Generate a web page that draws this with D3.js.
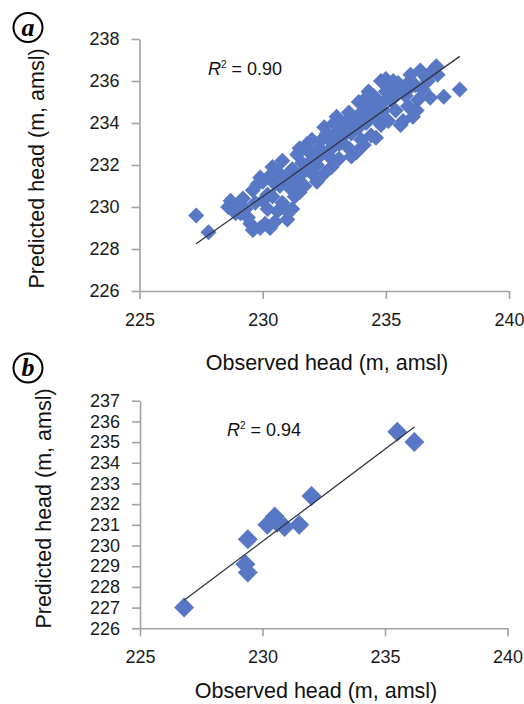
<!DOCTYPE html>
<html>
<head>
<meta charset="utf-8">
<script src="https://cdn.jsdelivr.net/npm/d3@7"></script>
<style>
  body { margin: 0; background: #fff; }
  svg { display: block; font-family: "Liberation Sans", Arial, sans-serif; }
</style>
</head>
<body>
<svg id="chart" width="524" height="704"></svg>
<script>
// panel a : observed vs predicted head (calibration)
var obsA = [227.3, 227.8,
  228.6, 228.7, 229.0, 228.9, 229.2, 229.3, 229.5, 229.6, 229.4, 229.6, 229.8,
  229.9, 230.1, 230.3, 230.5, 230.2, 230.0, 230.4, 230.6, 230.8, 230.0, 230.3, 230.6, 230.5, 230.9, 230.8,
  231.0, 231.2, 231.3, 231.1, 231.5, 231.4, 231.7, 231.2, 231.6, 231.4, 231.9, 232.0, 231.8,
  232.2, 232.3, 232.5, 232.4, 232.7, 232.6, 232.9, 232.8, 233.0, 233.1, 232.5, 232.9,
  233.2, 233.3, 233.5, 233.4, 233.6, 233.7, 233.8, 233.9, 234.0, 234.0, 233.5, 233.9,
  234.1, 234.2, 234.3, 234.4, 234.5, 234.6, 234.7, 234.8, 234.9, 235.0, 234.3, 234.8,
  235.1, 235.2, 235.3, 235.4, 235.5, 235.6, 235.7, 235.8, 235.9, 236.0, 235.3,
  236.1, 236.25, 236.3, 236.4, 236.5, 236.7, 236.8, 237.05, 237.1, 237.35, 238.0,
  229.1, 229.7, 230.2, 230.7, 231.0, 231.3, 231.6, 231.8, 232.1, 232.3, 232.6, 232.8,
  233.1, 233.3, 233.6, 233.8, 234.1, 234.4, 234.6, 234.9, 235.2, 235.4, 235.7, 235.9,
  236.2, 236.6, 236.0, 232.0, 233.0, 234.2, 231.5, 230.4, 229.9, 235.0, 236.9, 233.6,
  234.6, 232.2, 230.9];
var predA = [229.6, 228.8,
  230.0, 230.3, 230.0, 229.7, 230.4, 229.9, 229.2, 228.9, 229.5, 230.8, 231.1,
  229.0, 229.2, 229.0, 229.3, 229.9, 230.3, 230.5, 229.8, 230.2, 231.2, 231.5, 231.7, 231.1, 231.4, 232.2,
  229.4, 229.9, 230.5, 230.9, 230.7, 231.3, 231.0, 231.8, 232.1, 232.5, 232.6, 231.6, 233.0,
  232.0, 232.8, 231.6, 233.2, 232.4, 233.5, 232.9, 231.9, 233.6, 232.3, 233.8, 234.0,
  233.1, 233.9, 232.8, 234.1, 233.5, 234.2, 232.6, 233.8, 233.2, 234.5, 234.5, 235.0,
  232.95, 234.0, 234.8, 233.4, 235.3, 234.2, 235.0, 233.9, 234.6, 235.5, 235.5, 236.0,
  234.1, 235.8, 235.2, 234.6, 235.9, 233.9, 234.1, 235.3, 234.8, 235.7, 236.0,
  234.3, 234.6, 235.1, 236.5, 235.6, 236.0, 235.2, 236.7, 236.3, 235.25, 235.6,
  229.7, 230.2, 230.6, 231.0, 231.2, 231.6, 231.6, 232.0, 232.3, 232.4, 232.6, 233.1,
  233.0, 233.4, 233.9, 234.0, 234.1, 234.5, 234.7, 235.0, 235.1, 235.5, 235.6, 235.9,
  235.8, 236.2, 236.3, 233.2, 234.3, 235.2, 232.8, 231.9, 231.4, 236.1, 236.5, 232.4,
  233.3, 231.2, 229.9];

// panel b : observed vs predicted head (validation)
var obsB = [226.8, 229.4, 229.3, 229.4, 230.2, 230.5, 230.6, 230.9, 231.5, 232.0, 235.5, 236.2];
var predB = [227.0, 228.7, 229.1, 230.3, 231.0, 231.4, 231.1, 230.9, 231.0, 232.4, 235.5, 235.0];

var xTicks = [225, 230, 235, 240];
var yTicksA = [226, 228, 230, 232, 234, 236, 238];
var yTicksB = [226, 227, 228, 229, 230, 231, 232, 233, 234, 235, 236, 237];
var r2Labels = ["0.90", "0.94"];
var panelLetters = ["a", "b"];

var svg = d3.select("#chart");
svg.append("rect").attr("width", 524).attr("height", 704).attr("fill", "#fff");

function drawPanel(p) {
  var x = d3.scaleLinear().domain([225, 240]).range(p.xr);
  var y = d3.scaleLinear().domain(p.yd).range(p.yr);
  var g = svg.append("g");

  // axes
  var ax = g.append("g")
    .attr("transform", "translate(0," + p.yr[0] + ")")
    .call(d3.axisBottom(x).tickValues(xTicks).tickSize(8).tickSizeOuter(0).tickPadding(14).tickFormat(d3.format("d")));
  var ay = g.append("g")
    .attr("transform", "translate(" + p.xr[0] + ",0)")
    .call(d3.axisLeft(y).tickValues(p.yTicks).tickSize(8).tickSizeOuter(0).tickPadding(12).tickFormat(d3.format("d")));
  [ax, ay].forEach(function(a) {
    a.select(".domain").attr("stroke", "#a3a3a3").attr("stroke-width", 1.6);
    a.selectAll(".tick line").attr("stroke", "#a3a3a3").attr("stroke-width", 1.6);
    a.selectAll(".tick text").attr("fill", "#1a1a1a").style("font-size", "18px")
      .style("font-family", "'Liberation Sans', Arial, sans-serif");
  });

  // points
  var pts = p.obs.map(function(d, i) { return [d, p.pred[i]]; });
  g.selectAll("path.pt")
    .data(pts)
    .enter()
    .append("path")
      .attr("class", "pt")
      .attr("d", d3.symbol(d3.symbolSquare, p.size))
      .attr("transform", function(d) { return "translate(" + x(d[0]) + "," + y(d[1]) + ") rotate(45)"; })
      .attr("fill", "#5878c6");

  // least squares trend line over the observed range
  var mx = d3.mean(p.obs), my = d3.mean(p.pred);
  var sxy = d3.sum(pts, function(d) { return (d[0] - mx) * (d[1] - my); });
  var sxx = d3.sum(pts, function(d) { return (d[0] - mx) * (d[0] - mx); });
  var slope = sxy / sxx, icpt = my - slope * mx;
  var ext = d3.extent(p.obs);
  g.append("line")
    .attr("x1", x(ext[0])).attr("y1", y(icpt + slope * ext[0]))
    .attr("x2", x(ext[1])).attr("y2", y(icpt + slope * ext[1]))
    .attr("stroke", "#2f3440").attr("stroke-width", 1.3);

  // R squared
  var t = g.append("text")
    .attr("x", p.r2pos[0]).attr("y", p.r2pos[1])
    .style("font-size", "18px").attr("fill", "#111");
  t.append("tspan").style("font-style", "italic").text("R");
  t.append("tspan").attr("dy", -7).style("font-size", "10px").text("2");
  t.append("tspan").attr("dy", 7).text(" = " + p.r2);

  // axis titles
  g.append("text")
    .attr("x", p.xTitle[0]).attr("y", p.xTitle[1])
    .attr("text-anchor", "middle")
    .style("font-size", "21.5px").attr("fill", "#111")
    .text("Observed head (m, amsl)");
  g.append("text")
    .attr("transform", "translate(" + p.yTitle[0] + "," + p.yTitle[1] + ") rotate(-90)")
    .attr("text-anchor", "middle")
    .style("font-size", "21.5px").attr("fill", "#111")
    .text("Predicted head (m, amsl)");

  // circled panel letter
  g.append("circle")
    .attr("cx", 28).attr("cy", p.letterY).attr("r", 14.5)
    .attr("fill", "#fff").attr("stroke", "#000").attr("stroke-width", 2);
  g.append("text")
    .attr("x", 28).attr("y", p.letterY + 8)
    .attr("text-anchor", "middle")
    .style("font-family", "'Liberation Serif', 'Times New Roman', serif")
    .style("font-weight", "bold").style("font-style", "italic")
    .style("font-size", "26px")
    .text(p.letter);
}

drawPanel({
  obs: obsA, pred: predA, yTicks: yTicksA,
  xr: [139.5, 509], yd: [226, 238], yr: [291, 39],
  size: 128, r2: r2Labels[0], r2pos: [208, 75],
  xTitle: [327, 370], yTitle: [44, 168.5],
  letter: panelLetters[0], letterY: 27.5
});
drawPanel({
  obs: obsB, pred: predB, yTicks: yTicksB,
  xr: [140, 507.5], yd: [226, 237], yr: [628.3, 400.7],
  size: 200, r2: r2Labels[1], r2pos: [227, 436],
  xTitle: [316, 698], yTitle: [50.5, 508.5],
  letter: panelLetters[1], letterY: 368
});
</script>
</body>
</html>
